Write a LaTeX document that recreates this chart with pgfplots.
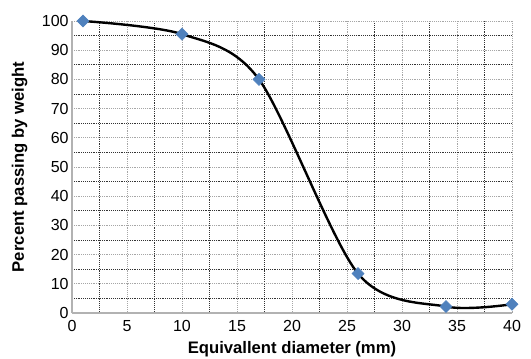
\documentclass[border=0pt]{standalone}
\usepackage{pgfplots}
\pgfplotsset{compat=1.18}
\usepackage{fontspec}
\setmainfont{Liberation Sans}
\definecolor{exblue}{HTML}{4F81BD}
\begin{document}
\begin{tikzpicture}
\path[use as bounding box] (-54pt,-33.75pt) rectangle (344.25pt,234.75pt);
\begin{axis}[
  scale only axis, width=330pt, height=219pt,
  xmin=0, xmax=40, ymin=0, ymax=100,
  xtick={0,5,...,40}, ytick={0,10,...,100},
  minor x tick num=1, minor y tick num=1,
  grid=both,
  major grid style={gray!70, densely dotted, line width=0.6pt},
  minor grid style={black!80, densely dotted, line width=0.6pt},
  axis x line*=bottom, axis y line*=left,
  axis line style={gray!60, line width=0.8pt},
  tick style={draw=none},
  /pgf/number format/assume math mode=true,
  ticklabel style={font=\fontsize{12}{14}\selectfont},
  xticklabel style={yshift=-2pt},
  yticklabel style={xshift=1pt},
  xlabel={\bfseries Equivallent diameter (mm)},
  ylabel={\bfseries Percent passing by weight},
  label style={font=\fontsize{12.5}{14}\selectfont\bfseries},
  xlabel style={yshift=-0.5pt},
  ylabel style={yshift=4pt},
  clip=false,
]
\addplot[black, line width=1.8pt, smooth, tension=0.5] coordinates {
 (1,100) (10,95.5) (17,80) (26,13.5) (34,2.2) (40,3)
};
\addplot[only marks, mark=square*, mark size=3.2pt, color=exblue, mark options={fill=exblue, draw=exblue, rotate=45}] coordinates {
 (1,100) (10,95.5) (17,80) (26,13.5) (34,2.2) (40,3)
};
\end{axis}
\end{tikzpicture}
\end{document}
